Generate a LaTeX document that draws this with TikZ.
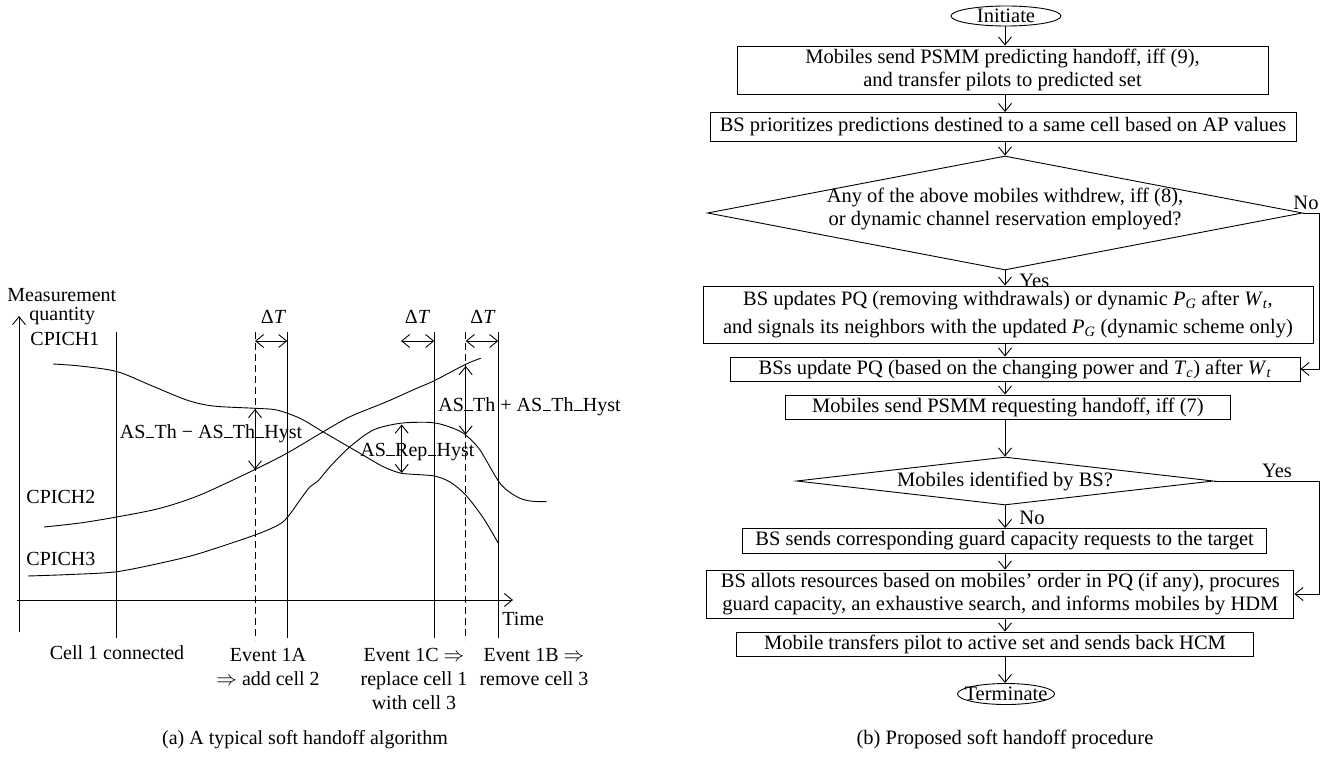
\documentclass[tikz,border=0pt]{standalone}
\usepackage{fontspec}
\setmainfont{Liberation Serif}
\usetikzlibrary{arrows.meta,shapes.geometric}
\newcommand\fl{\fontsize{20}{24}\selectfont}
\newcommand\fr{\fontsize{20.5}{23.5}\selectfont}
\newcommand\usc{\kern0.02em\rule[-0.02em]{0.42em}{0.06em}\kern0.02em}
\newcommand\sbit[2]{\textit{#1}\textsubscript{\textit{#2}}}
\begin{document}
\begin{tikzpicture}[x=1pt,y=-1pt,line width=0.9pt,
  tip/.style={-{Straight Barb[length=8pt,width=13pt]}},
  twotip/.style={{Straight Barb[length=8pt,width=13pt]}-{Straight Barb[length=8pt,width=13pt]}},
  dashln/.style={dash pattern=on 7pt off 4pt},
  lt/.style={font=\fl,inner sep=0pt},
  rt/.style={font=\fr,inner sep=0pt},
  box/.style={draw,font=\fr,align=center,inner sep=0pt},
  dia/.style={draw,diamond,inner sep=0pt},
  ell/.style={draw,ellipse,inner sep=0pt},
  crv/.style={smooth,tension=0.5}]
\useasboundingbox (0,0) rectangle (1342,757);

% ---------------- (a) ----------------
\coordinate (yb) at (19,632); \coordinate (yt) at (19,316);
\draw[tip] (yb) -- (yt);
\coordinate (xl) at (17,600); \coordinate (xr) at (513,600);
\draw[tip] (xl) -- (xr);
\foreach \n/\x in {v1/116.7,v3/287.3,v4/434.3,v6/498.3}{
  \coordinate (\n t) at (\x,332); \coordinate (\n b) at (\x,638);
  \draw (\n t) -- (\n b);}
\foreach \n/\x in {v2/255,v5/465.7}{
  \coordinate (\n t) at (\x,332); \coordinate (\n b) at (\x,640);
  \draw[dashln] (\n t) -- (\n b);}

% Delta T arrows
\coordinate (d1a) at (255,341); \coordinate (d1b) at (287.3,341);
\coordinate (d2a) at (401,341); \coordinate (d2b) at (434.3,341);
\coordinate (d3a) at (465.7,341); \coordinate (d3b) at (498.3,341);
\draw[twotip] (d1a) -- (d1b);
\draw[twotip] (d2a) -- (d2b);
\draw[twotip] (d3a) -- (d3b);
\node[lt,anchor=base] (dt1) at (273.5,323) {Δ\textit{T}};
\node[lt,anchor=base] (dt2) at (417.5,323) {Δ\textit{T}};
\node[lt,anchor=base] (dt3) at (483,323) {Δ\textit{T}};

% curves
\draw plot[crv] coordinates {(53,364) (80,366) (116.7,371.5) (150,385) (186.7,400) (213,406) (255,408.3) (276.7,410) (300,418.3) (320,430) (340,441.7) (360,453.3) (383.3,466.7) (400,473) (413,474.3) (434.3,476) (450,482) (465.7,495) (483.3,518) (498.3,543.3)};
\draw plot[crv] coordinates {(44,527) (80,523) (116.7,517) (160,508.3) (200,495) (255,469.5) (287.3,453) (323.3,431.7) (350,416.7) (386.7,401.7) (416.7,388.3) (434.3,380.7) (465.7,364.3) (480.7,358.3)};
\draw plot[crv] coordinates {(28,576) (70,574.5) (116.7,571.7) (166.7,561.7) (200,553.3) (255,535) (280,524) (290,514) (300,500) (310,486.7) (318,481) (330,466.7) (350,446.7) (373.3,430) (400,423.3) (426.7,422.3) (440,424) (455,429) (465.7,435) (480,450) (500,483.3) (516.7,496.7) (530,501) (546.7,501.7)};

% hysteresis arrows
\coordinate (h1a) at (255,409); \coordinate (h1b) at (255,469.5);
\coordinate (h2a) at (401.7,424.5); \coordinate (h2b) at (401.7,473);
\coordinate (h3a) at (465.7,366); \coordinate (h3b) at (465.7,434.5);
\draw[twotip] (h1a) -- (h1b);
\draw[twotip] (h2a) -- (h2b);
\draw[twotip] (h3a) -- (h3b);

% labels
\node[lt,anchor=base west] (mq1) at (7,301) {Measurement};
\node[lt,anchor=base west] (mq2) at (29,320) {quantity};
\node[lt,anchor=base west] (c1) at (30,345) {CPICH1};
\node[lt,anchor=base west] (c2) at (26,503) {CPICH2};
\node[lt,anchor=base west] (c3) at (26,565) {CPICH3};
\node[lt,anchor=base west] (hy1) at (119.5,438) {AS\usc Th − AS\usc Th\usc Hyst};
\node[lt,anchor=base west] (hy2) at (360,456) {AS\usc Rep\usc Hyst};
\node[lt,anchor=base west] (hy3) at (438,411) {AS\usc Th + AS\usc Th\usc Hyst};
\node[lt,anchor=base west] (tm) at (502,625) {Time};
\node[lt,anchor=base] (e0) at (117,659) {Cell 1 connected};
\node[lt,anchor=base] (ea1) at (268,661) {Event 1A};
\node[lt,anchor=base] (ea2) at (268,685) {$\Rightarrow$ add cell 2};
\node[lt,anchor=base] (ec1) at (414,661) {Event 1C $\Rightarrow$};
\node[lt,anchor=base] (ec2) at (414,685) {replace cell 1};
\node[lt,anchor=base] (ec3) at (414,709) {with cell 3};
\node[lt,anchor=base] (eb1) at (534,661) {Event 1B $\Rightarrow$};
\node[lt,anchor=base] (eb2) at (534,685) {remove cell 3};
\node[lt,anchor=base] (capa) at (305,744) {(a) A typical soft handoff algorithm};

% ---------------- (b) ----------------
\coordinate (cx) at (1005,0);
\coordinate (nx) at (1319,0);
\node[ell,minimum width=110pt,minimum height=20pt] (ini) at (1006,16) {};
\node[rt] (init) at (ini.center) {Initiate};
\node[box,minimum width=531pt,minimum height=48pt] (b1) at (1002.5,70)
  {Mobiles send PSMM predicting handoff, iff (9),\\and transfer pilots to predicted set};
\node[box,minimum width=586pt,minimum height=29pt] (b2) at (1003,127)
  {BS prioritizes predictions destined to a same cell based on AP values};
\node[dia,minimum width=595pt,minimum height=114pt] (d1) at (1005,213) {};
\node[rt,align=center] (d1t) at (1005,209)
  {Any of the above mobiles withdrew, iff (8),\\or dynamic channel reservation employed?};
\node[box,minimum width=610pt,minimum height=57pt] (b3) at (1008,314.5)
  {BS updates PQ (removing withdrawals) or dynamic \sbit{P}{G} after \sbit{W}{t},\\[5pt]and signals its neighbors with the updated \sbit{P}{G} (dynamic scheme only)};
\node[box,minimum width=570pt,minimum height=24pt] (b4) at (1015,369)
  {BSs update PQ (based on the changing power and \sbit{T}{c}) after \sbit{W}{t}};
\node[box,minimum width=445pt,minimum height=24pt] (b5) at (1008,407)
  {Mobiles send PSMM requesting handoff, iff (7)};
\node[dia,minimum width=417pt,minimum height=48pt] (d2) at (1005,481) {};
\node[rt] (d2t) at (d2.center) {Mobiles identified by BS?};
\node[box,minimum width=524pt,minimum height=25pt] (b6) at (1004.6,541)
  {BS sends corresponding guard capacity requests to the target};
\node[box,minimum width=587pt,minimum height=48pt] (b7) at (1000.4,594)
  {BS allots resources based on mobiles’ order in PQ (if any), procures\\guard capacity, an exhaustive search, and informs mobiles by HDM};
\node[box,minimum width=517pt,minimum height=24pt] (b8) at (995,644)
  {Mobile transfers pilot to active set and sends back HCM};
\node[ell,minimum width=97pt,minimum height=21pt] (trm) at (1006,694) {};
\node[rt] (trmt) at (trm.center) {Terminate};

\draw[tip] (ini.south -| cx) -- (b1.north -| cx);
\draw[tip] (b1.south -| cx) -- (b2.north -| cx);
\draw[tip] (b2.south -| cx) -- (d1.north);
\draw[tip] (d1.south) -- (b3.north -| cx);
\draw[tip] (b3.south -| cx) -- (b4.north -| cx);
\draw[tip] (b4.south -| cx) -- (b5.north -| cx);
\draw[tip] (b5.south -| cx) -- (d2.north);
\draw[tip] (d2.south) -- (b6.north -| cx);
\draw[tip] (b6.south -| cx) -- (b7.north -| cx);
\draw[tip] (b7.south -| cx) -- (b8.north -| cx);
\draw[tip] (b8.south -| cx) -- (trm.north -| cx);
\draw[tip] (d1.east) -- (d1.east -| nx) |- (b4.east);
\draw[tip] (d2.east) -- (d2.east -| nx) |- (b7.east);

\node[rt] (no1) at (1306,203) {No};
\node[rt,anchor=base west] (yes1) at (1019,287) {Yes};
\node[rt] (yes2) at (1277,471) {Yes};
\node[rt,anchor=base west] (no2) at (1019,524) {No};
\node[rt,anchor=base] (capb) at (1005,744) {(b) Proposed soft handoff procedure};
\end{tikzpicture}
\end{document}
